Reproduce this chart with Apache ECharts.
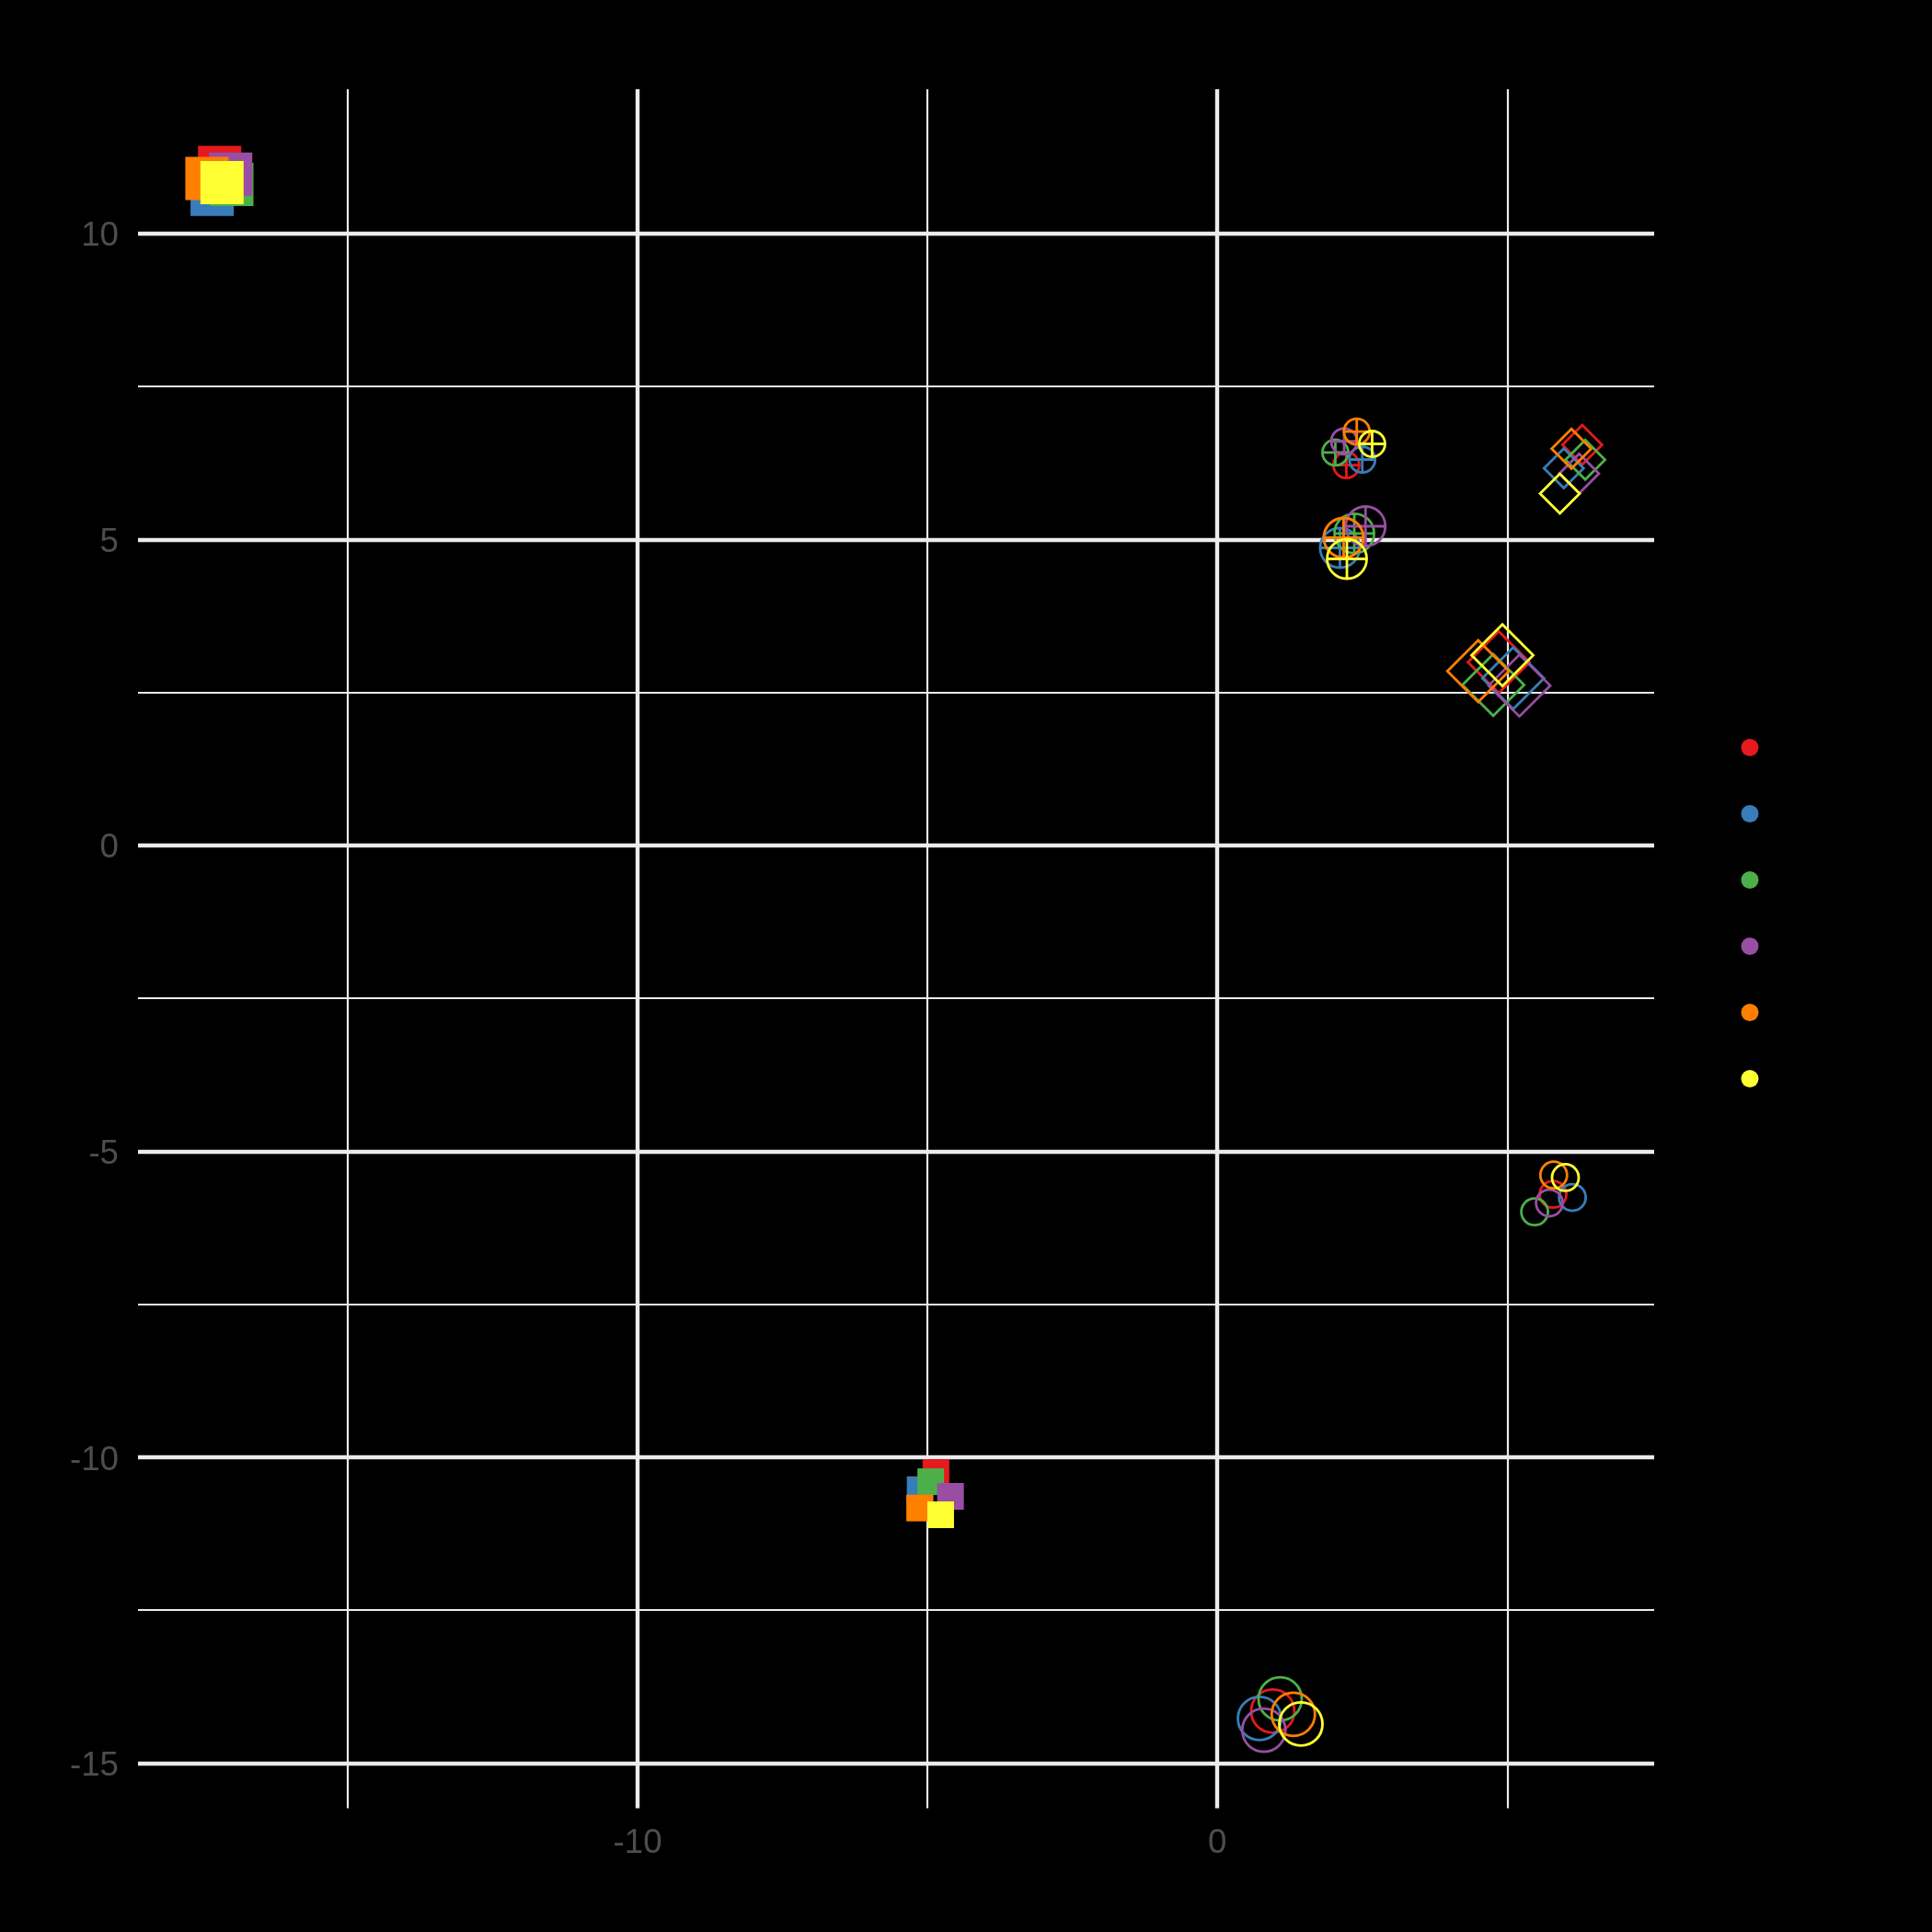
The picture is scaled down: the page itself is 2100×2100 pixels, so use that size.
<!DOCTYPE html>
<html><head><meta charset="utf-8">
<script src="https://cdn.jsdelivr.net/npm/echarts@6/dist/echarts.min.js"></script>
<style>html,body{margin:0;padding:0;background:#000;} #chart{width:2100px;height:2100px;}</style>
</head><body><div id="chart"></div>
<script>
// ---- data ----
const groupNames = ['1', '2', '3', '4', '5', '6'];
const groupColors = ['#E41A1C', '#377EB8', '#4DAF4A', '#984EA3', '#FF7F00', '#FFFF33'];
// one entry per cluster (same order in every x / y array)
const clusterShapes = ['square', 'circlePlus', 'circlePlus', 'diamond', 'square', 'diamond', 'circle', 'circle'];
const clusterSizes = ['large', 'small', 'large', 'small', 'small', 'large', 'small', 'large'];

const xRed    = [-17.21, 2.225, 2.178, 6.294, -4.854, 4.854, 5.790, 0.956];
const xBlue   = [-17.34, 2.500, 2.114, 5.976, -5.127, 5.103, 6.124, 0.727];
const xGreen  = [-17.00, 2.035, 2.362, 6.346, -4.944, 4.759, 5.473, 1.083];
const xPurple = [-17.02, 2.187, 2.556, 6.241, -4.603, 5.210, 5.727, 0.802];
const xOrange = [-17.43, 2.405, 2.178, 6.108, -5.135, 4.500, 5.802, 1.310];
const xYellow = [-17.17, 2.670, 2.235, 5.908, -4.773, 4.917, 6.003, 1.441];

const yRed    = [11.08, 6.214, 5.027, 6.546, -10.25, 2.992, -5.704, -14.15];
const yBlue   = [10.64, 6.305, 4.862, 6.161, -10.53, 2.732, -5.755, -14.27];
const yGreen  = [10.80, 6.421, 5.098, 6.301, -10.40, 2.621, -5.989, -13.95];
const yPurple = [10.97, 6.602, 5.215, 6.075, -10.64, 2.612, -5.845, -14.46];
const yOrange = [10.90, 6.762, 5.027, 6.481, -10.83, 2.847, -5.388, -14.20];
const yYellow = [10.83, 6.561, 4.681, 5.749, -10.94, 3.105, -5.429, -14.36];

const xMajorTicks = [-10, 0];
const xMinorTicks = [-15, -5, 5];
const yMajorTicks = [-15, -10, -5, 0, 5, 10];
const yMinorTicks = [-12.5, -7.5, -2.5, 2.5, 7.5];

// ---- styling ----
const xs = [xRed, xBlue, xGreen, xPurple, xOrange, xYellow];
const ys = [yRed, yBlue, yGreen, yPurple, yOrange, yYellow];

const symbolPx = {
  square: {small: 29, large: 47},
  circlePlus: {small: 28, large: 43},
  diamond: {small: 43, large: 67},
  circle: {small: 29, large: 47}
};
const CIRCLE_PLUS = 'path://M50,2 A48,48 0 1,1 50,98 A48,48 0 1,1 50,2 Z M2,50 L98,50 M50,2 L50,98';
function symbolFor(shape) {
  if (shape === 'square') return 'rect';
  if (shape === 'circlePlus') return CIRCLE_PLUS;
  if (shape === 'diamond') return 'diamond';
  return 'circle';
}
function styleFor(shape, color) {
  if (shape === 'square') return {color: color, borderWidth: 0, opacity: 1};
  return {color: 'rgba(0,0,0,0)', borderColor: color, borderWidth: 2.8, opacity: 1};
}

function expand(arrs) {
  let lo = Infinity, hi = -Infinity;
  arrs.forEach(a => a.forEach(v => { lo = Math.min(lo, v); hi = Math.max(hi, v); }));
  const pad = (hi - lo) * 0.05;
  return [lo - pad, hi + pad];
}
const [xMin, xMax] = expand(xs);
const [yMin, yMax] = expand(ys);

const FONT = "'Liberation Sans', Arial, Helvetica, sans-serif";
const GRID_COLOR = '#EBEBEB';
const LABEL_COLOR = '#4D4D4D';

function axisPair(dim, min, max, major, minor) {
  const common = {type: 'value', min: min, max: max, gridIndex: 0, axisLine: {show: false}};
  const label = {show: true, customValues: major, color: LABEL_COLOR, fontSize: 36.7, fontFamily: FONT,
                 margin: dim === 'x' ? 20 : 21};
  if (dim === 'y') {
    label.formatter = function (v) { return '{t|' + v + '}'; };
    label.rich = {t: {color: LABEL_COLOR, fontSize: 36.7, fontFamily: FONT, padding: [7, 0, 0, 0]}};
  }
  const a = Object.assign({}, common, {
    axisTick: {show: false, customValues: major},
    axisLabel: label,
    splitLine: {show: true, lineStyle: {color: GRID_COLOR, width: 4.4}}
  });
  const b = Object.assign({}, common, {
    axisTick: {show: false, customValues: minor},
    axisLabel: {show: false},
    splitLine: {show: true, lineStyle: {color: GRID_COLOR, width: 2.2}}
  });
  if (dim === 'x') { a.position = 'bottom'; b.position = 'bottom'; }
  else { a.position = 'left'; b.position = 'left'; }
  return [a, b];
}

const series = groupNames.map((name, g) => ({
  type: 'scatter',
  name: name,
  xAxisIndex: 0,
  yAxisIndex: 0,
  itemStyle: {color: groupColors[g], borderWidth: 0, opacity: 1},
  emphasis: {disabled: true},
  data: xs[g].map((x, i) => ({
    value: [x, ys[g][i]],
    symbol: symbolFor(clusterShapes[i]),
    symbolSize: symbolPx[clusterShapes[i]][clusterSizes[i]],
    itemStyle: styleFor(clusterShapes[i], groupColors[g])
  }))
}));

const chart = echarts.init(document.getElementById('chart'), null, {renderer: 'canvas'});
chart.setOption({
  backgroundColor: '#000000',
  animation: false,
  grid: {left: 150, right: 302, top: 97, bottom: 134.5, containLabel: false},
  xAxis: axisPair('x', xMin, xMax, xMajorTicks, xMinorTicks),
  yAxis: axisPair('y', yMin, yMax, yMajorTicks, yMinorTicks),
  legend: {
    orient: 'vertical',
    left: 1892.5,
    top: 803,
    padding: 0,
    itemWidth: 19,
    itemHeight: 19,
    itemGap: 53,
    icon: 'circle',
    selectedMode: false,
    formatter: function () { return ''; },
    textStyle: {fontSize: 10, color: '#000'},
    itemStyle: {borderWidth: 0, opacity: 1},
    data: groupNames.map((n, g) => ({name: n, icon: 'circle', itemStyle: {color: groupColors[g], borderWidth: 0, opacity: 1}}))
  },
  series: series
});
</script></body></html>
